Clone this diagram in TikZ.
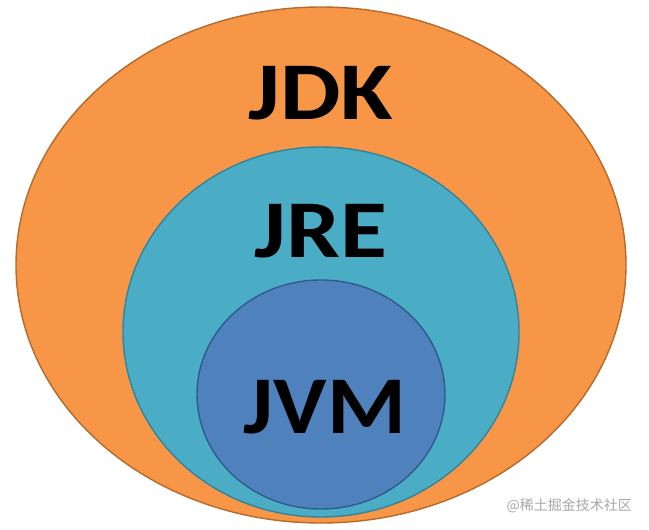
\documentclass[tikz,border=0pt]{standalone}
\usepackage{fontspec}
\setmainfont{Carlito}
\newfontfamily\cjkfont{Noto Sans CJK SC}
\definecolor{jdkfill}{HTML}{F79646}
\definecolor{jdkline}{HTML}{B66A2C}
\definecolor{jrefill}{HTML}{4BACC6}
\definecolor{jreline}{HTML}{31849B}
\definecolor{jvmfill}{HTML}{4F81BD}
\definecolor{jvmline}{HTML}{2F5B8C}
\definecolor{wmgray}{HTML}{A8A8A8}
\begin{document}
\begin{tikzpicture}[x=1pt,y=-1pt,
  ring/.style={line width=1.4pt},
  biglabel/.style={font=\fontsize{82}{82}\selectfont\bfseries, text=black, inner sep=0pt, anchor=center},
  wmark/.style={font=\cjkfont\fontsize{14}{14}\selectfont, text=wmgray, inner sep=0pt, anchor=east}]
\useasboundingbox (0,0) rectangle (649,530);
\fill[white] (0,0) rectangle (649,530);
\draw[ring, fill=jdkfill, draw=jdkline] (321,265) ellipse [x radius=305, y radius=258];
\draw[ring, fill=jrefill, draw=jreline] (321,332) ellipse [x radius=198, y radius=185];
\draw[ring, fill=jvmfill, draw=jvmline] (321,394.5) ellipse [x radius=124, y radius=114.5];
\node[biglabel] (jdk) at (321,93) {\scalebox{1.17}[1]{JDK}};
\node[biglabel] (jre) at (321,231) {\scalebox{1.17}[1]{JRE}};
\node[biglabel] (jvm) at (325,407) {\scalebox{1.1}[1]{JVM}};
\node[wmark] (wm) at (632,506) {@稀土掘金技术社区};
\end{tikzpicture}
\end{document}
